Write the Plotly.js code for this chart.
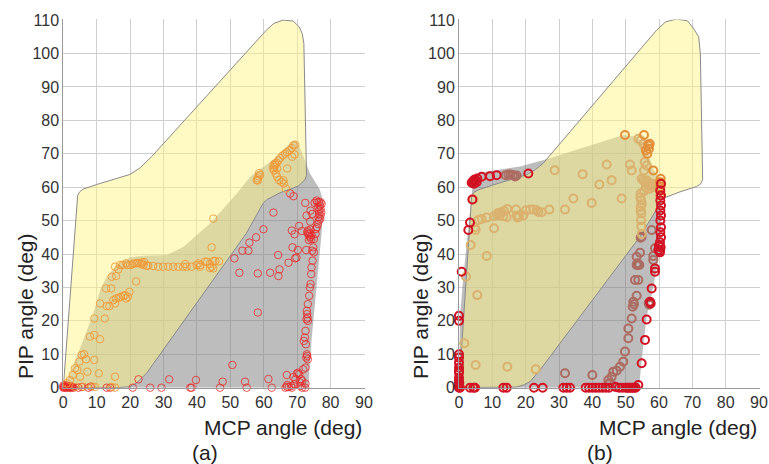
<!DOCTYPE html>
<html>
<head>
<meta charset="utf-8">
<script src="https://cdn.plot.ly/plotly-3.0.1.min.js"></script>
<style>html,body{margin:0;padding:0;background:#fff;}#chart{width:769px;height:464px;}</style>
</head>
<body>
<div id="chart"></div>
<script>
// ---------- Panel (a) regions ----------
const aYellowX = [0, 4.3, 4.8, 5.9, 10, 19.9, 23, 26.4, 60.8, 63, 65.8, 68.8, 70.6, 71.5, 72, 72.8, 72.3, 70.3, 64.8, 61, 59.8, 54.8, 24.9, 22, 19.9, 15.9, 0];
const aYellowY = [0, 57.5, 58.5, 59.4, 60.8, 63.8, 65.8, 69.1, 107, 109, 110, 109.7, 108, 106, 103, 63.5, 62.2, 60.3, 58.3, 56.3, 55.2, 46.2, 4.3, 1.5, 0.3, 0, 0];
const aGrayX = [0, 2, 6, 9, 11, 13, 16, 20, 24, 31, 36, 44, 52, 56, 62.8, 66.8, 68.8, 69.8, 71, 73.8, 76.8, 77.8, 77.3, 75.8, 74.3, 73.3, 0];
const aGrayY = [0, 4.3, 14.3, 22.3, 29.2, 33.2, 36.7, 39, 39.5, 39.7, 42.2, 49.2, 58.2, 63.2, 68.2, 72.1, 74, 73.8, 71.5, 64.2, 59.2, 55.7, 46.2, 30.2, 14.3, 0, 0];

// ---------- Panel (a) samples ----------
const aRedX = [0,0.3,0.6,0.9,1.2,1.5,1.8,2.1,2.4,2.7,3,0,0.5,0.2,0.8,1.4,2,2.6,
  4.5,5.5,7.5,8.2,13,14,20.8,22.5,26,29.4,31.7,38,38.4,39.7,46.9,47.7,50.6,54.4,54.9,61.4,62.4,
  51.2,52.7,53.6,55.4,55.7,57.7,58.2,58.2,59.9,61.9,62.9,64.3,64.7,64.4,67.4,69.4,69.8,67.9,68.9,68.4,69.2,70.2,70.6,71.4,72.4,72.7,68.6,
  73,73.3,73.6,73.9,74.2,73.2,73.8,74.3,73.5,74,
  73.9,72.8,74,75.2,74.5,75.8,
  76,76.5,77,77.3,76.8,76.3,77,76.5,77.2,76.6,77,76.4,76.9,76.5,76.2,75.9,75.6,
  75.5,75,74.8,74.5,75,74.6,74.3,74.2,74,73.8,73.6,73.2,72.9,73,73.1,72.8,73.2,72.5,72.3,72,72.6,72.9,73,72.7,73.2,72.5,71.8,70.3,70.6,69.9,68.9,69.5,71.2,71.5,70.8,72.5,71,66.9,66.5,67.5,68.2,67,68.4,69.2,71.5,66.9,72.4];
const aRedY = [0,0.3,0,0.2,0,0.3,0,0.1,0,0.2,0,0.6,0.8,0.1,0.4,0.5,0.4,0.3,
  0,0.2,0,0.3,0,0,0,2.5,0,0,2.5,0,0,2.3,0,1.8,6.8,1.8,0,2.6,0,
  38.7,34.4,41,41,43.4,45,34.2,22.5,47.4,34.4,52.4,39.7,35.4,33.4,37.4,38.7,38.9,58.1,57.3,47,45.9,41.2,48.4,46.9,55.3,41.2,42,
  46.5,46,45.5,45,44.5,47,46.2,45.6,44.2,47.3,
  49.7,51.5,53,55.3,52,56,
  55.5,55.5,55.5,55,54.5,54,53.5,53,52.5,52,51.5,51,50.5,50,49,48,47.5,
  46,44.5,42,41,40.5,38,36,34,31,30,27.5,25,23,22,21,20.5,20,17,15,14,13,10,9.5,9,8.5,6,5.5,4.5,4,4.2,3.2,2.5,2.5,2,1.6,1.2,0.5,0.3,0,0.2,0.5,0.8,0,1,0,3.8,0];

const aOrangeX = [1,2,2.8,3.5,4.2,5,4.8,5.5,6.2,6.8,7.2,8,9.3,11,9.3,9.3,10.6,11,12.4,13,13.8,14.3,12.8,14.5,15.8,15,15.5,15.8,16.5,17.2,18,18.5,18.8,19.3,19.8,21.8,
  15.5,16.5,17,17.8,18.8,19.3,20,20.6,21.1,21.8,22.3,22.8,23.4,24,24.9,25.4,23.5,24.2,26.9,28.4,29.9,31.4,32.9,34.4,35.9,36.9,38.4,39.9,40.5,40.9,42.4,43.1,43.9,44.4,44.9,45.5,46.6,43.9,44.9,44.4,44.9,36.5,41,
  6,8.5,9.5,14.5,15.5,3.6,15.5,
  57.9,58.2,58.5,58.9,58.6,58.2,62.9,63.4,63.9,64.4,64.9,65.7,66.4,66.9,67.7,68.4,68.9,69.4,63,63.6,64,64.6,65.3,66,66.6,65.9,67,68.5,63.2,63.5,64,62.8,69.2];
const aOrangeY = [1.3,2.3,3.8,5.8,5.3,3.3,7.8,9.8,10,8.5,4.8,15.3,15.8,14.5,20.7,8.3,4.3,25.2,20.7,24.4,24.4,29.7,29.7,33.2,33.4,26.2,25.2,26.7,26.9,27.2,27.5,27.7,26.7,27.2,28.7,31.8,
  36.2,35.4,36.7,36.7,37.2,36.7,36.7,36.9,37.2,37.2,37.4,37.2,37,36.7,36.5,36.5,37.5,37.6,36.4,36.2,36.2,36.2,36.2,36.2,36.2,36.2,36.2,36.7,37.2,36.2,37.7,37.7,37,36.2,37.9,37.9,37.8,35.8,35.7,42,50.6,37,36.7,
  0.3,0.4,0.2,0.2,0,0.2,3.3,
  62.1,62.6,63.2,63.7,64.2,62,66.6,67.1,67.3,68,68.7,69.5,70,70.5,71,71.7,72.5,72.7,65.1,64.1,63.1,62.1,61.6,61.1,59.6,62.1,65.6,69.1,66,66.7,65.6,65.6,69.8];

// ---------- Panel (b) regions ----------
const bYellowX = [0, 3.8, 4.4, 5.8, 10, 20.3, 23, 25.3, 59.3, 62, 65.3, 68.5, 70.3, 71.9, 72.4, 73.1, 72.5, 71.3, 66, 62.3, 60.8, 59.8, 54.3, 24.3, 21.3, 19.3, 17.3, 0];
const bYellowY = [0, 57.2, 58.4, 59.2, 60.6, 63.7, 65.3, 67.2, 107, 109.5, 110.3, 109.8, 107.6, 105, 100, 62.2, 61, 60.2, 58.5, 57.2, 56.5, 54.2, 45.2, 5.3, 1.8, 0.8, 0.2, 0];
const bGrayX = [0, 0.3, 1.3, 2.3, 3.3, 3.8, 4.3, 5.3, 8, 18.3, 24.3, 26, 49.3, 53.3, 55.8, 57.3, 58.3, 60.3, 61, 60.8, 60.3, 58.3, 56.3, 54.8, 54.1, 53.5, 0];
const bGrayY = [0, 21.3, 33.2, 43.2, 53.2, 59, 62.7, 63.7, 64.6, 66.2, 67.7, 68.3, 75.6, 75.1, 73.1, 68.2, 65.2, 62.7, 60, 56.2, 41.3, 30.2, 21.3, 8.3, 0.8, 0, 0];

// ---------- Panel (b) samples ----------
const bRedX = [0,0,0,0,0,0,0,0,0,0,0,0,0,0.1,0.8,
  2.8,3.3,4,3.8,4.1,4.4,4.7,5,5.3,4.5,5.5,6.8,9.3,11.3,20.8,
  0.3,3.3,4.3,4.8,13.3,14.3,22.5,25.1,31.3,32.3,33.3,38,39,40,41,42,43,44,45,47,48,49,50,51,52,53,53.8,50.5,51.5,52.5,
  54.8,55.8,56.3,57.3,57.5,57.8,58.8,58.8,60.3,60.5,60.3,60.6,60.4,60.6,60.4,60.6,60.4,60.6,60.4,60.6,60.4,60.6,60.3,59.8,60];
const bRedY = [0,0.5,1,2,3,4.5,5,6,7.5,9,10,20,21.5,1.5,34.7,
  47.2,49.4,56.3,61.3,61.7,62,62.3,62.1,61.5,61,62.6,63.1,63.3,63.6,64.1,
  0,0,0,0,0,0,0,0,0,0,0,0,0,0,0,0,0,0,0,0.2,0,0,0,0,0,0,0.8,0,0,0,
  7.3,14.3,20.4,25.7,25.2,29.7,34.7,35.7,41,42,43.5,45,46.5,48,50,51.5,53,54.5,56,57.5,59,61,40.5,41.2,42.5];

const bBrownX = [14,14.8,15.5,16.2,16.8,17.3,
  31.8,40,44.8,45.3,45.8,46.3,47.3,48.3,49.3,49.8,50.8,50.8,51.8,52.1,52.3,52.5,53.3,52.8,53.8,53.3,53.7,54.1,53.5,53.3,54.3,54.5,54.8,58.3,58.8,57.8,58.3,44.8,46.5,57.1,57.3,56.9];
const bBrownY = [63.6,63.8,63.8,63.6,63.2,63.5,
  4.3,3.8,2.3,1.5,3.3,4.8,5.1,6.3,7.8,10.8,14.8,17.7,20.7,24.2,25.7,25,27.5,32.2,32.2,36.7,36.7,36.7,37.2,39.2,40.4,44.9,45.2,39.4,41.7,47.2,38.2,1,0.5,24.8,25.6,25.3];

const bTanX = [1.6,2.1,3.5,4.3,5,5.5,5,4.8,5.8,6.8,8.3,10.5,10.5,8.3,11.3,11.8,12.3,12.8,13.3,13.5,14.3,14.5,17.1,17.3,17.6,18,19.3,20.1,21.3,22.3,23.3,23.8,24.8,27.1,31.8,34.3,39.8,42.1,45.8,44.3,48.8,37.1,28.7,14.5,23,
  53.8,54.5,55.3,55.8,51.3,51.8,55.5,55.7,56.3,
  54.8,55.3,55.8,56.3,56.8,57.3,57.8,58.3,58.8,59.3,59.8,56,57,55.5,
  54.5,54.6,54.5,54.7,54.6,54.7,54.8,54.4,54.8,54.5];
const bTanY = [13.3,33.2,42.7,56.3,47.2,27.7,6.8,48,50.2,50.5,50.9,51.3,47.7,39.4,51.8,52.3,51.5,52.5,51.3,52.9,51.1,53.5,53.3,51.5,50.9,51.2,51.5,53.1,53.3,53.3,53.1,52.6,52.5,53.3,53.3,56.6,55.3,60.8,62.1,66.8,56.6,63.9,65.1,6.3,5.5,
  74.5,74,73,72,66.8,65,65,67.5,66.5,
  62.5,62,61.5,62,61,60.5,61,60,60.5,61,60,60,59.5,58.8,
  58.1,56.1,54.1,52.1,50.1,48.2,46,57,55,53];

const bOrangeX = [49.8,55.5,56.8,57,56.5,57.2,56.1,58.3,60.3,60.5,60.4,60.3,60.4,60.6];
const bOrangeY = [75.6,75.6,72.5,71.5,70,73,71,65,61.5,62.5,60,59,57.5,61];

// ---------- Styles ----------
const FONT = 'Liberation Sans, Arial, sans-serif';
const YELLOW_FILL = 'rgba(255,243,133,0.485)';
const GRAY_FILL = 'rgba(123,124,124,0.5)';
const OUTLINE = '#8a8a8a';

function region(x, y, fill, lineW, xa, ya) {
  return {x: x, y: y, type: 'scatter', mode: 'lines', fill: 'toself', fillcolor: fill,
    line: {color: OUTLINE, width: lineW}, xaxis: xa, yaxis: ya, hoverinfo: 'skip', showlegend: false};
}
function pts(x, y, color, size, lw, xa, ya, op) {
  return {x: x, y: y, type: 'scatter', mode: 'markers', cliponaxis: false,
    marker: {symbol: 'circle-open', size: size, color: color, opacity: op, line: {width: lw, color: color}},
    xaxis: xa, yaxis: ya, hoverinfo: 'skip', showlegend: false};
}

const data = [
  region(aGrayX, aGrayY, GRAY_FILL, 0, 'x', 'y'),
  region(aYellowX, aYellowY, YELLOW_FILL, 1, 'x', 'y'),
  pts(aRedX, aRedY, 'rgb(232,40,40)', 7.5, 1, 'x', 'y', 0.8),
  pts(aOrangeX, aOrangeY, 'rgb(240,150,50)', 7.5, 1, 'x', 'y', 0.85),
  region(bGrayX, bGrayY, GRAY_FILL, 0, 'x2', 'y2'),
  region(bYellowX, bYellowY, YELLOW_FILL, 1, 'x2', 'y2'),
  pts(bBrownX, bBrownY, 'rgb(172,108,98)', 8, 2, 'x2', 'y2', 1),
  pts(bTanX, bTanY, 'rgb(218,178,110)', 8, 2, 'x2', 'y2', 1),
  pts(bOrangeX, bOrangeY, 'rgb(228,142,58)', 8, 2, 'x2', 'y2', 1),
  pts(bRedX, bRedY, 'rgb(210,18,35)', 8, 2, 'x2', 'y2', 1)
];

function xax(dom, anchor) {
  return {domain: dom, anchor: anchor, range: [0, 90.15], tick0: 0, dtick: 10, showgrid: true,
    gridcolor: '#cfcfcf', gridwidth: 1, zeroline: false, showline: true, linecolor: '#9a9a9a', linewidth: 1,
    ticks: '', tickfont: {family: FONT, size: 16, color: '#333'}, fixedrange: true};
}
function yax(dom, anchor) {
  return {domain: dom, anchor: anchor, range: [0, 110.2], tick0: 0, dtick: 10, showgrid: true,
    gridcolor: '#cfcfcf', gridwidth: 1, zeroline: false, showline: true, linecolor: '#9a9a9a', linewidth: 1,
    ticks: '', tickfont: {family: FONT, size: 16, color: '#333'}, fixedrange: true};
}
const yDom = [1 - 387.7 / 464, 1 - 19.4 / 464];
const titleFont = {family: FONT, size: 21, color: '#222'};

const layout = {
  width: 769, height: 464,
  margin: {l: 0, r: 0, t: 0, b: 0},
  paper_bgcolor: '#fff', plot_bgcolor: '#fff',
  showlegend: false,
  xaxis: xax([63.3 / 769, 364.5 / 769], 'y'),
  yaxis: yax(yDom, 'x'),
  xaxis2: xax([459 / 769, 759.5 / 769], 'y2'),
  yaxis2: yax(yDom, 'x2'),
  annotations: [
    {text: 'PIP angle (deg)', xref: 'paper', yref: 'paper', x: 25 / 769, y: 1 - 306 / 464, textangle: -90, showarrow: false, xanchor: 'center', yanchor: 'middle', font: titleFont},
    {text: 'PIP angle (deg)', xref: 'paper', yref: 'paper', x: 420 / 769, y: 1 - 306 / 464, textangle: -90, showarrow: false, xanchor: 'center', yanchor: 'middle', font: titleFont},
    {text: 'MCP angle (deg)', xref: 'paper', yref: 'paper', x: 364 / 769, y: 1 - 427 / 464, showarrow: false, xanchor: 'right', yanchor: 'middle', font: titleFont},
    {text: 'MCP angle (deg)', xref: 'paper', yref: 'paper', x: 759 / 769, y: 1 - 427 / 464, showarrow: false, xanchor: 'right', yanchor: 'middle', font: titleFont},
    {text: '(a)', xref: 'paper', yref: 'paper', x: 205 / 769, y: 1 - 452 / 464, showarrow: false, xanchor: 'center', yanchor: 'middle', font: titleFont},
    {text: '(b)', xref: 'paper', yref: 'paper', x: 600 / 769, y: 1 - 452 / 464, showarrow: false, xanchor: 'center', yanchor: 'middle', font: titleFont}
  ]
};

Plotly.newPlot('chart', data, layout, {staticPlot: true, displayModeBar: false});
</script>
</body>
</html>
